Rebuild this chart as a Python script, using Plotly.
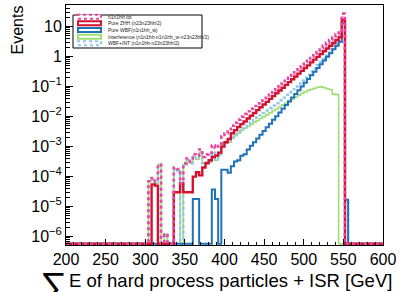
import plotly.graph_objects as go

# ---------------- data (4 GeV bins, 200..600) ----------------
bin_lo = 200.0
bin_w = 4.0
n_bins = 100

tot = ([0]*26 +
       [7e-5, 9e-5, 7e-5, 2.5e-4, 0, 1.2e-6, 0, 0,
        2.0e-4, 1.8e-4, 6e-5, 2.8e-4, 4.0e-4, 3.2e-4, 5.5e-4, 5.0e-4, 8.0e-4, 4.5e-4,
        5.5e-4, 6.3e-4, 1.1e-3, 9.0e-4, 1.25e-3, 2.2e-3, 2.8e-3, 3.2e-3, 5.0e-3, 6.3e-3,
        7.9e-3, 0.010, 0.0123, 0.0150, 0.0185, 0.0225, 0.0275, 0.034, 0.041, 0.051,
        0.062, 0.076, 0.093, 0.12, 0.15, 0.185, 0.23, 0.28, 0.35, 0.43,
        0.53, 0.66, 0.81, 1.0, 1.25, 1.55, 1.9, 2.35, 2.9, 3.6,
        4.5, 5.6, 7.0, 27.0] +
       [0]*12)

zhh = ([0]*27 +
       [5.5e-5, 5e-5, 0, 0, 0, 0, 0,
        3e-5, 3e-5, 6e-5, 3e-5, 3e-5, 3e-5, 1e-4, 1.4e-4, 1.1e-4, 2e-4,
        2.8e-4, 3.5e-4, 4.5e-4, 5e-4, 6.3e-4, 1.0e-3, 1.4e-3, 1.8e-3, 2.8e-3, 3.5e-3,
        4.5e-3, 5.6e-3, 6.9e-3, 8.6e-3, 0.0107, 0.0132, 0.0164, 0.0204, 0.0253, 0.031,
        0.039, 0.048, 0.060, 0.074, 0.092, 0.114, 0.141, 0.175, 0.217, 0.27,
        0.335, 0.415, 0.51, 0.64, 0.79, 0.98, 1.21, 1.5, 1.86, 2.3,
        2.85, 3.55, 4.4, 17.0] +
       [0]*12)

wbf = ([0]*40 +
       [1.8e-5, 1.8e-5, 0, 0, 0, 0, 3.7e-5, 1.8e-5, 0,
        1.7e-4, 1.7e-4, 1.35e-4, 2.2e-4, 3.2e-4, 3.5e-4, 5e-4, 5.6e-4, 8e-4,
        1.06e-3, 1.4e-3, 1.87e-3, 2.5e-3, 3.3e-3, 4.4e-3, 5.8e-3, 7.8e-3, 0.0103,
        0.0138, 0.0183, 0.0243, 0.032, 0.043, 0.057, 0.076, 0.101, 0.134,
        0.178, 0.237, 0.315, 0.42, 0.56, 0.74, 0.98, 1.3, 1.75,
        2.3, 3.1, 13.5, 1.7e-5] +
       [0]*11)

interf = ([0]*26 +
          [7e-5, 8e-5, 6e-5, 2.5e-4, 0, 1.2e-6, 0, 0,
           1.8e-4, 1.6e-4, 0, 2.5e-4, 3.5e-4, 2.8e-4, 4.5e-4, 3.8e-4, 6.5e-4, 2.8e-4,
           3.0e-4, 3.0e-4, 6.0e-4, 3.5e-4, 5.5e-4, 1.1e-3, 1.3e-3, 1.4e-3, 1.9e-3, 2.3e-3,
           2.8e-3, 3.5e-3, 4.1e-3, 4.7e-3, 5.5e-3, 6.4e-3, 7.4e-3, 8.6e-3, 0.010, 0.0116,
           0.0135, 0.0157, 0.018, 0.021, 0.0245, 0.0285, 0.033, 0.038, 0.044, 0.051,
           0.059, 0.067, 0.075, 0.082, 0.088, 0.095, 0.098, 0.092, 0.085, 0.080,
           0.056, 0.054] +
          [0]*14)

wbf_int = ([0]*26 +
           [7e-5, 8e-5, 6e-5, 2.5e-4, 0, 1.2e-6, 0, 0,
            1.8e-4, 1.6e-4, 0, 2.5e-4, 3.5e-4, 2.8e-4, 4.7e-4, 4.0e-4, 6.5e-4, 2.8e-4,
            3.0e-4, 3.0e-4, 6.4e-4, 3.7e-4, 5.5e-4, 1.27e-3, 1.47e-3, 1.53e-3, 2.1e-3, 2.6e-3,
            3.15e-3, 4.0e-3, 4.7e-3, 5.5e-3, 6.6e-3, 7.8e-3, 9.3e-3, 0.011, 0.0133, 0.016,
            0.0193, 0.0235, 0.028, 0.035, 0.043, 0.053, 0.065, 0.081, 0.101, 0.127,
            0.16, 0.20, 0.25, 0.32, 0.40, 0.52, 0.66, 0.83, 1.07, 1.38,
            1.81, 2.35, 3.1, 13.5, 1.7e-5] +
           [0]*11)

legend_labels = ["n1n1hh tot",
                 "Pure ZHH (n23n23hh/2)",
                 "Pure WBF(n1n1hh_w)",
                 "Interference (n1n1hh-n1n1hh_w-n23n23hh/2)",
                 "WBF+INT (n1n1hh-n23n23hh/2)"]

x_ticks = [200, 250, 300, 350, 400, 450, 500, 550, 600]
y_tickvals = [1e-6, 1e-5, 1e-4, 1e-3, 1e-2, 1e-1, 1, 10]
y_ticktext = ["10<sup>\u22126</sup>", "10<sup>\u22125</sup>", "10<sup>\u22124</sup>",
              "10<sup>\u22123</sup>", "10<sup>\u22122</sup>", "10<sup>\u22121</sup>", "1", "10"]

# ---------------- styling ----------------
W, H = 401, 292
L, R, T, B = 66, 18, 5, 47
ylog_range = [-6.28, 1.72]
floor = 10 ** (ylog_range[0] + 0.04)

edges = [bin_lo + bin_w * i for i in range(n_bins + 1)]

def step(vals):
    ys = [v if v > 0 else floor for v in vals]
    return edges, ys + [ys[-1]]

PINK = "#e8489f"
RED = "#d4112f"
BLUE = "#1f72b8"
GREEN = "#a3dc72"
LBLUE = "#8ec6ec"

series = [
    (interf, GREEN, 1.6, "solid"),
    (wbf_int, LBLUE, 2.4, "dot"),
    (wbf, BLUE, 2.0, "solid"),
    (zhh, RED, 2.4, "solid"),
    (tot, PINK, 2.6, "dot"),
]

fig = go.Figure()
for vals, col, lw, dash in series:
    xs, ys = step(vals)
    fig.add_trace(go.Scatter(x=xs, y=ys, mode="lines", line_shape="hv",
                             line=dict(color=col, width=lw, dash=dash),
                             showlegend=False, hoverinfo="skip"))

fig.update_layout(
    width=W, height=H,
    margin=dict(l=L, r=R, t=T, b=B, autoexpand=False),
    paper_bgcolor="white", plot_bgcolor="white",
    font=dict(family="Liberation Sans, Arial, sans-serif", color="black", size=16),
)
fig.update_xaxes(range=[200, 600], tickvals=x_ticks, ticks="inside", ticklen=6,
                 tickcolor="black", showgrid=False, zeroline=False, automargin=False,
                 showline=True, linecolor="black", linewidth=1, mirror=True,
                 tickfont=dict(size=16),
                 minor=dict(ticks="inside", ticklen=3, dtick=10, tickcolor="black", showgrid=False))
fig.update_yaxes(type="log", range=ylog_range, tickvals=y_tickvals, ticktext=y_ticktext,
                 ticks="inside", ticklen=7, tickcolor="black", showgrid=False, zeroline=False,
                 automargin=False,
                 showline=True, linecolor="black", linewidth=1, mirror=True,
                 tickfont=dict(size=16),
                 minor=dict(ticks="inside", ticklen=4, dtick="D1", tickcolor="black", showgrid=False))

pw, ph = W - L - R, H - T - B
def px(xp): return (xp - L) / pw
def py(yp): return (H - B - yp) / ph

# axis titles
fig.add_annotation(text="Events", textangle=-90, xref="paper", yref="paper",
                   x=px(17), y=py(4), xanchor="center", yanchor="top",
                   showarrow=False, font=dict(size=16))
fig.add_annotation(text="E of hard process particles + ISR [GeV]", xref="paper", yref="paper",
                   x=px(394), y=py(280), xanchor="right", yanchor="middle",
                   showarrow=False, font=dict(size=18.5))
fig.add_annotation(text="\u2211", xref="paper", yref="paper",
                   x=px(53.5), y=py(286), xanchor="center", yanchor="middle",
                   showarrow=False, font=dict(size=38))

# custom ROOT-like legend
fig.add_shape(type="rect", xref="paper", yref="paper", x0=px(73), x1=px(202), y0=py(48), y1=py(15),
              line=dict(color="black", width=1), fillcolor="white", layer="above")
leg_styles = [(PINK, "dot"), (RED, "solid"), (BLUE, "solid"), (GREEN, "solid"), (LBLUE, "dot")]
for k, (lab, (col, dash)) in enumerate(zip(legend_labels, leg_styles)):
    yc = 16.7 + k * 6.65
    fig.add_shape(type="rect", xref="paper", yref="paper", x0=px(78), x1=px(101),
                  y0=py(yc + 2), y1=py(yc - 2), line=dict(color=col, width=2, dash=dash),
                  fillcolor="white", layer="above")
    fig.add_annotation(text=lab, xref="paper", yref="paper", x=px(106), y=py(yc),
                       xanchor="left", yanchor="middle", showarrow=False,
                       font=dict(size=5.0, color="#222"))

fig.write_html("out.html", config={"displayModeBar": False},
               post_script="document.body.style.margin='0px';")
